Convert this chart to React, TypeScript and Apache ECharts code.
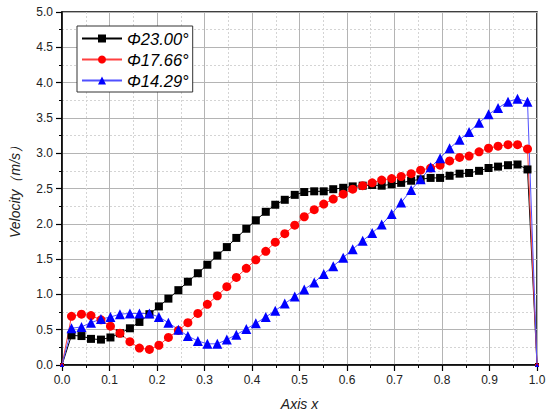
import React, { useEffect, useRef } from "react";
import * as echarts from "echarts";

const xValues = [
  0, 0.02, 0.041, 0.061, 0.082, 0.102, 0.122, 0.143, 0.163, 0.184,
  0.204, 0.224, 0.245, 0.265, 0.286, 0.306, 0.327, 0.347, 0.367, 0.388,
  0.408, 0.429, 0.449, 0.469, 0.49, 0.51, 0.531, 0.551, 0.571, 0.592,
  0.612, 0.633, 0.653, 0.673, 0.694, 0.714, 0.735, 0.755, 0.776, 0.796,
  0.816, 0.837, 0.857, 0.878, 0.898, 0.918, 0.939, 0.959, 0.98, 1.0,
];

const phi2300 = [
  0, 0.42, 0.41, 0.37, 0.36, 0.39, 0.45, 0.52, 0.61, 0.72,
  0.83, 0.94, 1.06, 1.18, 1.3, 1.42, 1.55, 1.67, 1.8, 1.93,
  2.05, 2.17, 2.27, 2.34, 2.41, 2.45, 2.46, 2.46, 2.49, 2.51,
  2.53, 2.54, 2.55, 2.54, 2.56, 2.58, 2.61, 2.63, 2.65, 2.65,
  2.68, 2.71, 2.72, 2.75, 2.79, 2.81, 2.83, 2.84, 2.77, 0,
];

const phi1766 = [
  0, 0.69, 0.72, 0.7, 0.64, 0.55, 0.45, 0.33, 0.24, 0.22,
  0.28, 0.39, 0.49, 0.6, 0.73, 0.86, 0.98, 1.11, 1.24, 1.37,
  1.49, 1.61, 1.74, 1.86, 1.98, 2.1, 2.2, 2.28, 2.35, 2.42,
  2.49, 2.54, 2.58, 2.62, 2.64, 2.67, 2.71, 2.76, 2.79, 2.83,
  2.89, 2.94, 2.96, 3.02, 3.07, 3.1, 3.12, 3.12, 3.06, 0,
];

const phi1429 = [
  0, 0.52, 0.54, 0.6, 0.65, 0.68, 0.72, 0.73, 0.73, 0.73,
  0.68, 0.6, 0.5, 0.41, 0.34, 0.3, 0.3, 0.36, 0.43, 0.51,
  0.59, 0.68, 0.77, 0.87, 0.97, 1.07, 1.17, 1.29, 1.4, 1.52,
  1.64, 1.76, 1.87, 1.99, 2.14, 2.3, 2.48, 2.63, 2.8, 2.93,
  3.07, 3.19, 3.3, 3.43, 3.55, 3.64, 3.73, 3.77, 3.73, 0,
];

const seriesNames = ["Φ23.00°", "Φ17.66°", "Φ14.29°"];
const xTickLabels = ["0.0", "0.1", "0.2", "0.3", "0.4", "0.5", "0.6", "0.7", "0.8", "0.9", "1.0"];
const yTickLabels = ["0.0", "0.5", "1.0", "1.5", "2.0", "2.5", "3.0", "3.5", "4.0", "4.5", "5.0"];

const FONT = "'Liberation Sans', Arial, sans-serif";

function pair(ys: number[], size: number) {
  return ys.map((y, i) => {
    const edge = i === 0 || i === ys.length - 1;
    return edge ? { value: [xValues[i], y], symbolSize: 4 } : { value: [xValues[i], y], symbolSize: size };
  });
}

export default function App() {
  const ref = useRef<HTMLDivElement>(null);
  useEffect(() => {
    if (!ref.current) return;
    const chart = echarts.init(ref.current, undefined, { renderer: "svg" });
    const axisCommon = {
      axisLine: { show: true, lineStyle: { color: "#000", width: 1.5 } },
      axisTick: { show: true, inside: false, length: 6, lineStyle: { color: "#000", width: 1.2 } },
      minorTick: { show: true, splitNumber: 2, length: 3, lineStyle: { color: "#000", width: 1 } },
      splitLine: { show: true, lineStyle: { color: "#b4b4b4", width: 1 } },
      minorSplitLine: { show: true, lineStyle: { color: "#d4d4d4", width: 1, type: [2, 2] } },
    };
    chart.setOption({
      animation: false,
      backgroundColor: "#fff",
      grid: {
        left: 62,
        right: 13,
        top: 12,
        bottom: 55,
        show: true,
        borderColor: "#000",
        borderWidth: 1.5,
        backgroundColor: "transparent",
      },
      legend: {
        orient: "vertical",
        left: 77,
        top: 26,
        padding: [4, 4, 3, 4],
        itemGap: 4,
        itemWidth: 40,
        itemHeight: 10,
        borderColor: "#333",
        borderWidth: 1,
        backgroundColor: "#fff",
        textStyle: { fontFamily: FONT, fontSize: 16.5, fontStyle: "italic", color: "#000" },
        data: seriesNames,
      },
      xAxis: {
        type: "value",
        min: 0,
        max: 1,
        interval: 0.1,
        name: "Axis x",
        nameLocation: "middle",
        nameGap: 32,
        nameTextStyle: { fontFamily: FONT, fontSize: 14, fontStyle: "italic", color: "#222" },
        axisLabel: {
          fontFamily: FONT,
          fontSize: 12,
          color: "#222",
          margin: 9,
          formatter: (v: number) => xTickLabels[Math.round(v * 10)] ?? "",
        },
        ...axisCommon,
      },
      yAxis: {
        type: "value",
        min: 0,
        max: 5,
        interval: 0.5,
        name: "Velocity（m/s）",
        nameLocation: "middle",
        nameGap: 40,
        nameTextStyle: { fontFamily: FONT, fontSize: 14, fontStyle: "italic", color: "#222" },
        axisLabel: {
          fontFamily: FONT,
          fontSize: 12,
          color: "#222",
          margin: 9,
          formatter: (v: number) => yTickLabels[Math.round(v * 2)] ?? "",
        },
        ...axisCommon,
      },
      series: [
        {
          name: seriesNames[0],
          type: "line",
          data: pair(phi2300, 8),
          symbol: "rect",
          symbolSize: 8,
          itemStyle: { color: "#000" },
          lineStyle: { color: "#000", width: 1 },
        },
        {
          name: seriesNames[1],
          type: "line",
          data: pair(phi1766, 9),
          symbol: "circle",
          symbolSize: 9,
          itemStyle: { color: "#ff0000" },
          lineStyle: { color: "#ff4040", width: 1 },
        },
        {
          name: seriesNames[2],
          type: "line",
          data: pair(phi1429, 10),
          symbol: "triangle",
          symbolSize: 10,
          itemStyle: { color: "#0000ff" },
          lineStyle: { color: "#5050ff", width: 1 },
        },
      ],
    });
    return () => chart.dispose();
  }, []);
  return <div ref={ref} style={{ width: 550, height: 420, position: "absolute", left: 0, top: 0 }} />;
}
